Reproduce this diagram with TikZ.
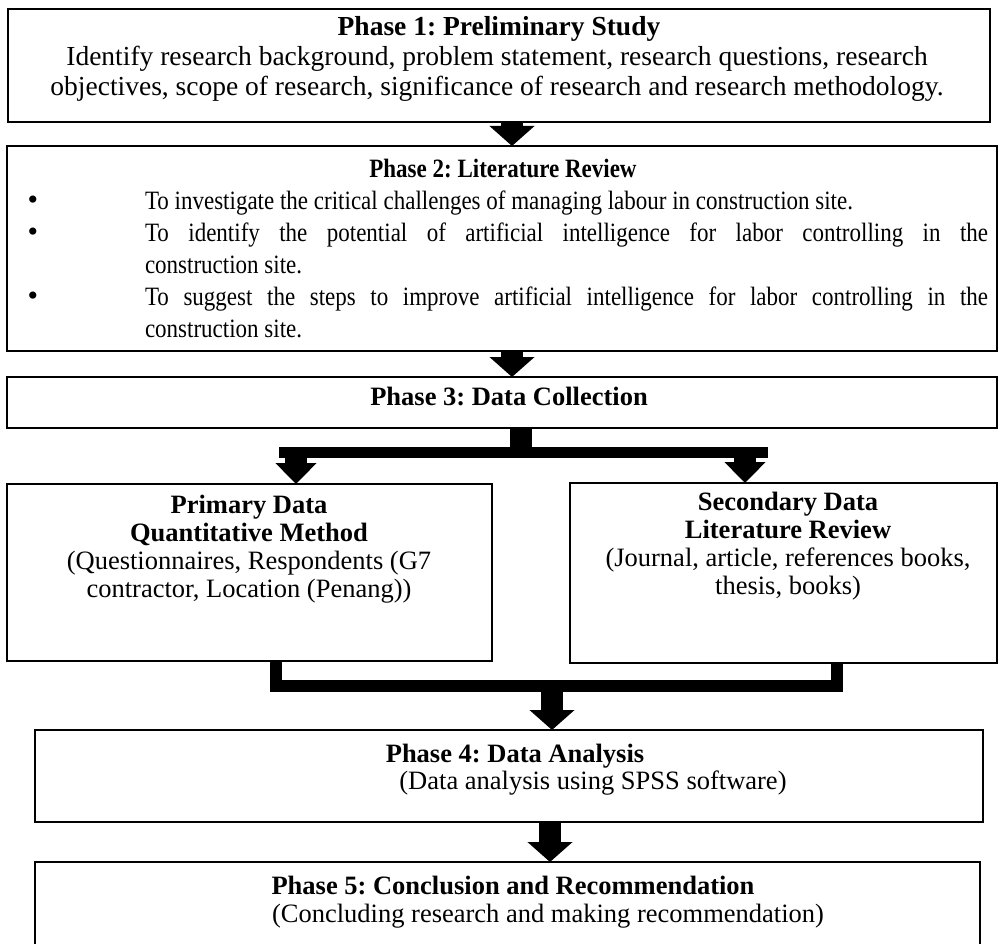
\documentclass[tikz,border=0pt]{standalone}
\usepackage{graphicx}
\usepackage{fontspec}
\setmainfont{Liberation Serif}
\usetikzlibrary{arrows.meta}
\frenchspacing
\newcommand\vst[1]{\scalebox{1}[1.15]{#1}}
\begin{document}
\begin{tikzpicture}[x=1pt,y=-1pt,
  panel/.style={draw=black, line width=1.3pt, rectangle, inner sep=0pt, outer sep=0pt, anchor=north west},
  txt/.style={inner sep=0pt, outer sep=0pt, text height=0.7em, text depth=0.22em},
  fA/.style={font=\fontsize{27.5}{30}\selectfont},
  fB/.style={font=\fontsize{23}{26}\selectfont},
  fC/.style={font=\fontsize{26.5}{29}\selectfont},
  fD/.style={font=\fontsize{30}{30}\selectfont},
  blk/.style={line width=22pt, -{Triangle[width=44pt,length=20pt]}},
  blks/.style={line width=22pt, -{Triangle[width=40pt,length=21pt]}},
  tbar/.style={line width=11pt},
  ubar/.style={line width=12pt, line join=miter},
]
\useasboundingbox (0,0) rectangle (998,944);
\clip (0,0) rectangle (998,944);
\fill[white] (0,0) rectangle (998,944);

% ---------- boxes ----------
\node[panel, minimum width=982pt, minimum height=113pt] (b1) at (8,9) {};
\node[panel, minimum width=990pt, minimum height=205pt] (b2) at (7,146) {};
\node[panel, minimum width=990pt, minimum height=51pt]  (b3) at (7,377) {};
\node[panel, minimum width=485pt, minimum height=177pt] (prim) at (7,484) {};
\node[panel, minimum width=427pt, minimum height=180pt] (sec) at (570,483) {};
\node[panel, minimum width=948pt, minimum height=92pt]  (b4) at (35,730) {};
\node[panel, minimum width=945pt, minimum height=110pt] (b5) at (35,862) {};

% ---------- texts ----------
\node[txt,fA] (t1a) at (499,33) {\bfseries Phase 1: Preliminary Study};
\node[txt,fA] (t1b) at (497,63) {Identify research background, problem statement, research questions, research};
\node[txt,fA] (t1c) at (497,93) {objectives, scope of research, significance of research and research methodology.};

\node[txt,fB] (t2a) at (503,175) {\vst{\bfseries Phase 2: Literature Review}};
\node[txt,fD] (u1) at (33,207) {•};
\node[txt,fD] (u2) at (33,239) {•};
\node[txt,fD] (u3) at (33,303) {•};
\node[txt,fB,anchor=west] (t2b) at (145,207) {\vst{To investigate the critical challenges of managing labour in construction site.}};
\node[txt,fB,anchor=west] (t2c) at (145,239) {\vst{\makebox[843pt][s]{To identify the potential of artificial intelligence for labor controlling in the}}};
\node[txt,fB,anchor=west] (t2d) at (145,271) {\vst{construction site.}};
\node[txt,fB,anchor=west] (t2e) at (145,303) {\vst{\makebox[843pt][s]{To suggest the steps to improve artificial intelligence for labor controlling in the}}};
\node[txt,fB,anchor=west] (t2f) at (145,335) {\vst{construction site.}};

\node[txt,fC] (t3) at (509,403) {\bfseries Phase 3: Data Collection};

\node[txt,fC] (p1) at (249,511) {\bfseries Primary Data};
\node[txt,fC] (p2) at (249,539) {\bfseries Quantitative Method};
\node[txt,fC] (p3) at (249,567) {(Questionnaires, Respondents (G7};
\node[txt,fC] (p4) at (249,595) {contractor, Location (Penang))};

\node[txt,fC] (s1) at (788,508) {\bfseries Secondary Data};
\node[txt,fC] (s2) at (788,536) {\bfseries Literature Review};
\node[txt,fC] (s3) at (788,564) {(Journal, article, references books,};
\node[txt,fC] (s4) at (788,592) {thesis, books)};

\node[txt,fC] (t4a) at (515,760) {\bfseries Phase 4: Data Analysis};
\node[txt,fC] (t4b) at (593,787) {(Data analysis using SPSS software)};

\node[txt,fC] (t5a) at (513,892) {\bfseries Phase 5: Conclusion and Recommendation};
\node[txt,fC] (t5b) at (548,920) {(Concluding research and making recommendation)};

% ---------- connectors ----------
\coordinate (xa) at (512,0);
\draw[blk] (xa |- b1.south) -- (xa |- b2.north);
\draw[blk] (xa |- b2.south) -- (xa |- b3.north);

\coordinate (xs) at (521,0);
\coordinate (tb) at (0,452.5);
\coordinate (tl) at (279,452.5);
\coordinate (tr) at (768,452.5);
\draw[line width=22pt] (xs |- b3.south) -- (xs |- tb);
\draw[tbar] (tl) -- (tr);
\coordinate (xl) at (296,0);
\coordinate (xr) at (745,0);
\draw[blks] (xl |- tb) -- (xl |- prim.north);
\draw[blks] (xr |- tb) -- (xr |- sec.north);

\coordinate (ul) at (276,686);
\coordinate (ur) at (837,686);
\draw[ubar] (ul |- prim.south) -- (ul) -- (ur) -- (ur |- sec.south);
\coordinate (xc) at (552,686);
\draw[blk] (xc) -- (xc |- b4.north);
\coordinate (xd) at (550,0);
\draw[blk] (xd |- b4.south) -- (xd |- b5.north);
\end{tikzpicture}
\end{document}
